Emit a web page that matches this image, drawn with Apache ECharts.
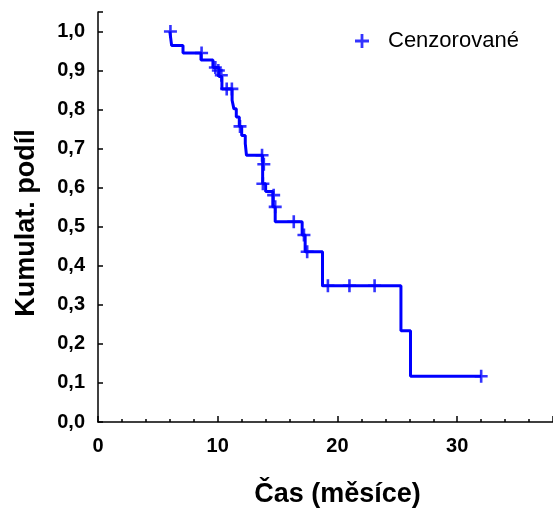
<!DOCTYPE html>
<html>
<head>
  <meta charset="UTF-8">
  <title>Kumulat. podíl</title>
  <script src="https://cdn.jsdelivr.net/npm/echarts@6/dist/echarts.min.js"></script>
  <style>
    html, body { margin: 0; padding: 0; background: #fff; }
    #main { width: 553px; height: 509px; }
  </style>
</head>
<body>
<div id="main"></div>
<script>
// step curve: time of drop and survival after it
var stepTimes = [6.0, 6.15, 7.1, 8.6, 9.6, 10.1, 10.35, 11.2, 11.35, 11.55, 11.8, 12.0, 12.3, 12.4, 13.75, 14.0, 14.6, 14.8, 17.05, 17.3, 18.75, 25.3, 26.1, 32.0];
var stepSurv  = [1.0, 0.964, 0.945, 0.927, 0.908, 0.885, 0.853, 0.824, 0.802, 0.781, 0.757, 0.734, 0.713, 0.683, 0.61, 0.59, 0.551, 0.513, 0.479, 0.436, 0.349, 0.234, 0.117, 0.117];

// censored observations
var censTimes = [6.05, 8.65, 9.8, 10.05, 10.3, 10.75, 11.18, 11.86, 13.7, 13.85, 13.77, 14.67, 14.8, 16.35, 17.2, 17.47, 19.2, 21.0, 23.1, 32.0];
var censSurv  = [1.0, 0.945, 0.908, 0.9, 0.888, 0.853, 0.853, 0.757, 0.683, 0.66, 0.61, 0.581, 0.551, 0.513, 0.479, 0.436, 0.349, 0.349, 0.349, 0.117];

var plus = 'path://M4,0H6V4H10V6H6V10H4V6H0V4H4Z';
var font = 'Liberation Sans, Arial, sans-serif';

var lineData = stepTimes.map(function (t, i) { return [t, stepSurv[i]]; });
var censData = censTimes.map(function (t, i) { return [t, censSurv[i]]; });

var chart = echarts.init(document.getElementById('main'));
chart.setOption({
  animation: false,
  grid: { left: 98, right: 0, top: 12, bottom: 87, outerBoundsMode: 'none' },
  legend: {
    left: 350, top: 25,
    itemWidth: 14, itemHeight: 14,
    data: [{ name: 'Cenzorované', icon: plus }],
    textStyle: { fontSize: 22, color: '#000', fontFamily: font, padding: [0, 0, 0, 14] }
  },
  xAxis: {
    type: 'value', min: 0, max: 38, interval: 10,
    name: 'Čas (měsíce)', nameLocation: 'middle', nameGap: 59,
    nameTextStyle: { fontSize: 27, fontWeight: 'bold', color: '#000', fontFamily: font, padding: [0, 0, 0, 24] },
    axisLine: { lineStyle: { color: '#000', width: 1.5 } },
    axisTick: { inside: true, length: 6, lineStyle: { color: '#000', width: 1.5 } },
    minorTick: { show: true, splitNumber: 5, length: 3, lineStyle: { color: '#000', width: 1.5 } },
    axisLabel: { fontSize: 20, fontWeight: 'bold', color: '#000', fontFamily: font, margin: 14, showMaxLabel: false },
    splitLine: { show: false }
  },
  yAxis: {
    type: 'value', min: 0, max: 1.05, interval: 0.1,
    name: 'Kumulat. podíl', nameLocation: 'middle', nameGap: 58,
    nameTextStyle: { fontSize: 27, fontWeight: 'bold', color: '#000', fontFamily: font, padding: [0, 12, 0, 0] },
    axisLine: { show: true, lineStyle: { color: '#000', width: 1.5 } },
    axisTick: { show: true, inside: true, length: 5, lineStyle: { color: '#000', width: 1.5 } },
    axisLabel: {
      fontSize: 20, fontWeight: 'bold', color: '#000', fontFamily: font, margin: 13,
      formatter: function (v) { return v > 1.001 ? '' : v.toFixed(1).replace('.', ','); }
    },
    splitLine: { show: false }
  },
  series: [
    {
      name: 'Přežití', type: 'line', step: 'end',
      data: lineData, showSymbol: false,
      lineStyle: { color: '#0000ff', width: 3 }
    },
    {
      name: 'Cenzorované', type: 'scatter',
      data: censData, symbol: plus, symbolSize: 13,
      itemStyle: { color: '#0000ff' }
    }
  ]
});
</script>
</body>
</html>
